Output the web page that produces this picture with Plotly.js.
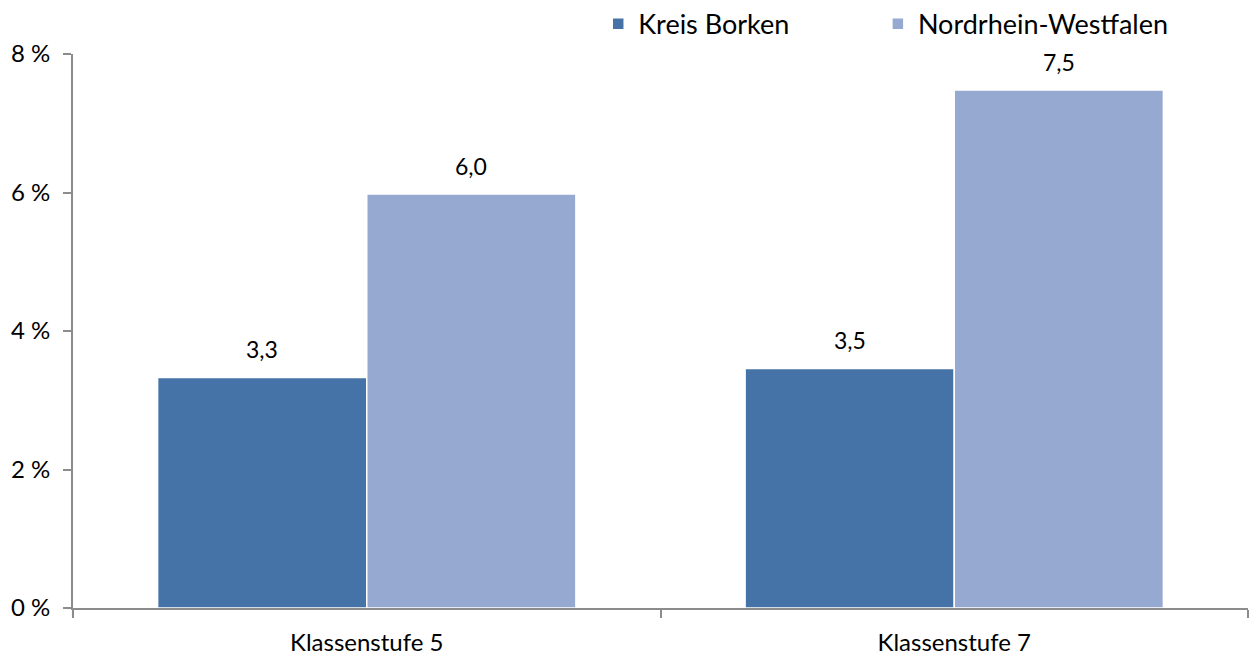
<!DOCTYPE html>
<html><head><meta charset="utf-8">
<script src="https://cdn.plot.ly/plotly-3.0.1.min.js"></script>
<style>body{margin:0;background:#fff}#c{width:1250px;height:655px}</style>
</head><body><div id="c"></div>
<script>
const categories = ["Klassenstufe 5", "Klassenstufe 7"];
const kreisBorken = [3.33, 3.46];
const nrw = [5.98, 7.48];
const seriesNames = ["Kreis Borken", "Nordrhein-Westfalen"];
const yTicks = [0, 2, 4, 6, 8];
const yTickText = ["0 %", "2 %", "4 %", "6 %", "8 %"];

const font = "Lato, sans-serif";
const mk = (name, y, color, leg) => ({
  type: "bar", name: name, x: categories, y: y, legend: leg,
  marker: {color: color, line: {color: "#ffffff", width: 1.5}},
  hoverinfo: "skip"
});
const data = [mk(seriesNames[0], kreisBorken, "#4673A7", "legend"),
              mk(seriesNames[1], nrw, "#95A9D1", "legend2")];

const fmt = v => v.toFixed(1).replace(".", ",");
const annotations = [];
[[kreisBorken, -104.5], [nrw, 104.5]].forEach(([vals, shift]) => {
  vals.forEach((v, i) => annotations.push({
    x: categories[i], y: v, xref: "x", yref: "y", text: fmt(v), showarrow: false,
    xshift: shift, yshift: 12, yanchor: "bottom",
    font: {family: font, size: 23, color: "#000"}
  }));
});

const legFont = {family: font, size: 27, color: "#000"};
const layout = {
  width: 1250, height: 655,
  margin: {l: 73, r: 2, t: 54, b: 47, autoexpand: false},
  paper_bgcolor: "#fff", plot_bgcolor: "#fff",
  separators: ",.",
  font: {family: font, size: 24, color: "#000"},
  bargap: 0.288, bargroupgap: 0,
  barmode: "group",
  showlegend: true,
  annotations: annotations,
  legend: {orientation: "h", x: 0.447, y: 1.054, xanchor: "left", yanchor: "middle",
           font: legFont, itemwidth: 30},
  legend2: {orientation: "h", x: 0.685, y: 1.054, xanchor: "left", yanchor: "middle",
           font: legFont, itemwidth: 30},
  xaxis: {showline: true, linecolor: "#8c8c8c", linewidth: 2, ticks: "outside",
          tickson: "boundaries", ticklen: 8, tickcolor: "#8c8c8c", tickwidth: 2,
          ticklabelstandoff: 12,
          tickfont: {family: font, size: 24}, showgrid: false, zeroline: false},
  yaxis: {range: [0, 8], tickmode: "array", tickvals: yTicks, ticktext: yTickText, showline: true,
          linecolor: "#8c8c8c", linewidth: 2, ticks: "outside", ticklen: 8,
          tickcolor: "#8c8c8c", tickwidth: 2, showgrid: false, zeroline: false,
          ticklabelstandoff: 8,
          tickfont: {family: font, size: 24}}
};
Plotly.newPlot("c", data, layout, {displayModeBar: false, staticPlot: true});
</script></body></html>
